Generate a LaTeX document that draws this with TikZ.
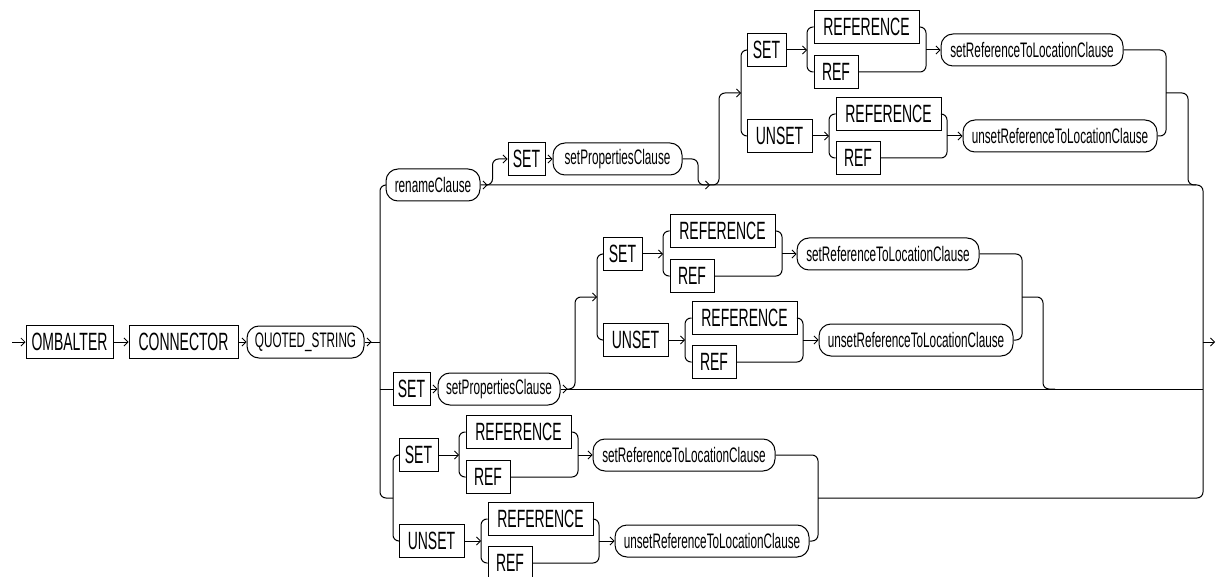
\documentclass[tikz,border=0pt]{standalone}
\usepackage{fontspec}
\setmainfont[FakeStretch=0.56]{Liberation Sans}
\usetikzlibrary{arrows.meta,decorations.markings}

\tikzset{
    term/.style={draw, sharp corners, minimum height=33pt, inner sep=0pt,
        font=\fontsize{25}{27}\selectfont},
    nterm/.style={draw, rounded corners=12pt, minimum height=32pt, inner sep=0pt,
        font=\fontsize{21}{23}\selectfont},
    outarrow/.style={decoration={markings, mark=at position 7pt with {\arrow{>}}},
        postaction={decorate}},
}

% SET/UNSET with REFERENCE/REF; #1 name prefix, #2 junction point
\newcommand{\refgroup}[2]{%
    \begin{scope}[shift={#2}, name prefix=#1]
        \coordinate (j) at (0,0);
        \coordinate (out) at (425,0);
        \node[term, minimum width=39pt] (set) at (25.5,-43) {SET};
        \node[term, minimum width=105pt] (refa) at (125.5,-66) {REFERENCE};
        \node[term, minimum width=44pt] (refb) at (95,-21) {REF};
        \node[nterm, minimum width=182pt] (setloc) at (291,-43) {setReferenceToLocationClause};
        \node[term, minimum width=65pt] (unset) at (38.5,43) {UNSET};
        \node[term, minimum width=105pt] (refc) at (147.5,21) {REFERENCE};
        \node[term, minimum width=44pt] (refd) at (117,65) {REF};
        \node[nterm, minimum width=194pt] (unsetloc) at (319,43) {unsetReferenceToLocationClause};
        \coordinate (ca) at (66,-43);
        \coordinate (cb) at (185,-43);
        \coordinate (cc) at (88,43);
        \coordinate (cd) at (206,43);

        \draw (set.west) -| (j) |- (unset.west);
        \draw[->] (set) -- (ca);
        \draw (refa.west) -| (ca) |- (refb.west);
        \draw (refa.east) -| (cb) |- (refb.east);
        \draw[->] (cb) -- (setloc);
        \draw[->] (unset) -- (cc);
        \draw (refc.west) -| (cc) |- (refd.west);
        \draw (refc.east) -| (cd) |- (refd.east);
        \draw[->] (cd) -- (unsetloc);
        \draw (setloc.east) -| (out) |- (unsetloc.east);
    \end{scope}%
}

\begin{document}
\begin{tikzpicture}[x=1pt,y=-1pt,line width=1pt,rounded corners=6pt,
    >={Straight Barb[length=4pt,width=8pt,line width=0.8pt]}]
    \path[use as bounding box, sharp corners] (0,0) rectangle (1220,577);
    \clip[sharp corners] (0,0) rectangle (1220,577);

    \coordinate (start) at (12,342);
    \coordinate (lbus) at (380,342);
    \coordinate (rbus) at (1203,342);
    \coordinate (stop) at (1215,342);

    \node[term, minimum width=87pt] (ombalter) at (69.5,342) {OMBALTER};
    \node[term, minimum width=109pt] (connector) at (183.5,342) {CONNECTOR};
    \node[nterm, minimum width=117pt] (qstring) at (305.5,342) {QUOTED\_STRING};

    \draw[->] (start) -- (ombalter);
    \draw[->] (ombalter) -- (connector);
    \draw[->] (connector) -- (qstring);
    \draw[outarrow] (qstring) -- (lbus);

    % rename row
    \node[nterm, minimum width=94pt] (rename) at (433,185) {renameClause};
    \node[term, minimum width=37pt] (set1) at (526.5,159) {SET};
    \node[nterm, minimum width=129pt] (props1) at (617.5,159) {setPropertiesClause};
    \coordinate (ra) at (485,185);
    \coordinate (tjoin) at (710,185);
    \coordinate (tdrop) at (1188,185);

    % SET row
    \node[term, minimum width=37pt] (set2) at (411.5,389) {SET};
    \node[nterm, minimum width=122pt] (props2) at (499,389) {setPropertiesClause};
    \coordinate (mjoin) at (567,389);
    \coordinate (mdrop) at (1043,389);

    \refgroup{t}{(741,93)}
    \refgroup{m}{(597,297)}
    \refgroup{b}{(393,498)}

    % left bus
    \draw (rename.west) -| (lbus) |- (bj);
    \draw (lbus |- set2) -- (set2);

    \draw[outarrow] (rename.east) -| (rbus);
    \draw[->] (ra) -| ([xshift=-15pt]set1.west) -- (set1);
    \draw[->] (set1) -- (props1);
    \draw[->] (props1.east) -| ([xshift=-12pt]tjoin) -- (tjoin);
    \draw[->] (tjoin) -| ([xshift=-22pt]tj) -- (tj);
    \draw (tout) -| (tdrop) -- ++(8,0);

    \draw[->] (set2) -- (props2);
    \draw[outarrow] (props2.east) -- (rbus |- props2);
    \draw[->] (mjoin) -| ([xshift=-22pt]mj) -- (mj);
    \draw (mout) -| (mdrop) -- ++(12,0);

    \draw (bout) -| (rbus);
    \draw[->] (rbus) -- (stop);
\end{tikzpicture}
\end{document}
